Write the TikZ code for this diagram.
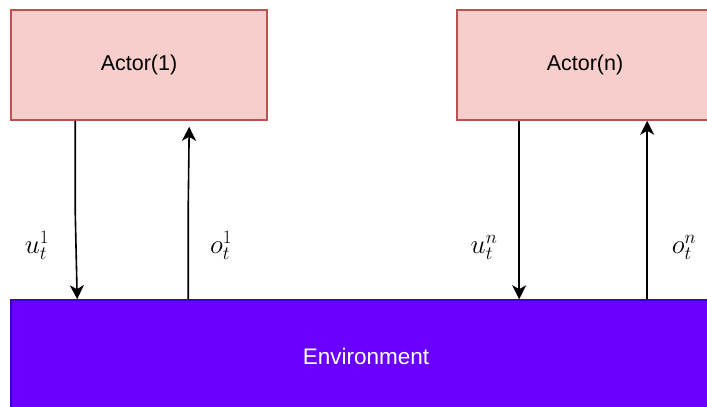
\documentclass[tikz,border=0pt]{standalone}
\usepackage{fix-cm}
\usepackage{fontspec}
\setmainfont{Liberation Sans}
\usetikzlibrary{arrows.meta}
\definecolor{actfill}{HTML}{F8CECC}
\definecolor{actdraw}{HTML}{B85450}
\definecolor{envfill}{HTML}{6A00FF}
\definecolor{envdraw}{HTML}{3700CC}
\begin{document}
\begin{tikzpicture}[x=1pt,y=-1pt,
  actor/.style={draw=actdraw,fill=actfill,line width=1.6pt,minimum width=256pt,minimum height=110pt,inner sep=0pt,font=\fontsize{21.5}{25}\selectfont},
  env/.style={draw=envdraw,fill=envfill,line width=1.6pt,minimum width=710pt,minimum height=112pt,inner sep=0pt,text=white,font=\fontsize{22.5}{26}\selectfont},
  arr/.style={line width=1.6pt,-{Stealth[length=14pt,width=14pt,inset=4pt]}},
  lbl/.style={anchor=base,inner sep=0pt,font=\fontsize{27}{32}\selectfont}]
\useasboundingbox (0,0) rectangle (707,407);
\clip (0,0) rectangle (707,407);
\fill[white] (0,0) rectangle (707,407);
\node[actor] (a1) at (139,65) {Actor(1)};
\node[actor] (an) at (585,65) {Actor(n)};
\node[env] (env) at (366,356) {Environment};
\draw[arr] ([xshift=65pt]a1.south west) -- ++(0,90) -- ([xshift=67pt]env.north west);
\draw[arr] ([xshift=178pt]env.north west) -- ++(0,-90) -- ([xshift=179pt,yshift=-6pt]a1.south west);
\draw[arr] ([xshift=63pt]an.south west) -- ([xshift=509pt]env.north west);
\draw[arr] ([xshift=637pt]env.north west) -- ([xshift=191pt]an.south west);
\node[lbl] (lu1) at (37,253) {$u_t^1$};
\node[lbl] (lo1) at (221,253) {$o_t^1$};
\node[lbl] (lun) at (484,253) {$u_t^n$};
\node[lbl] (lon) at (684,253) {$o_t^n$};
\end{tikzpicture}
\end{document}
